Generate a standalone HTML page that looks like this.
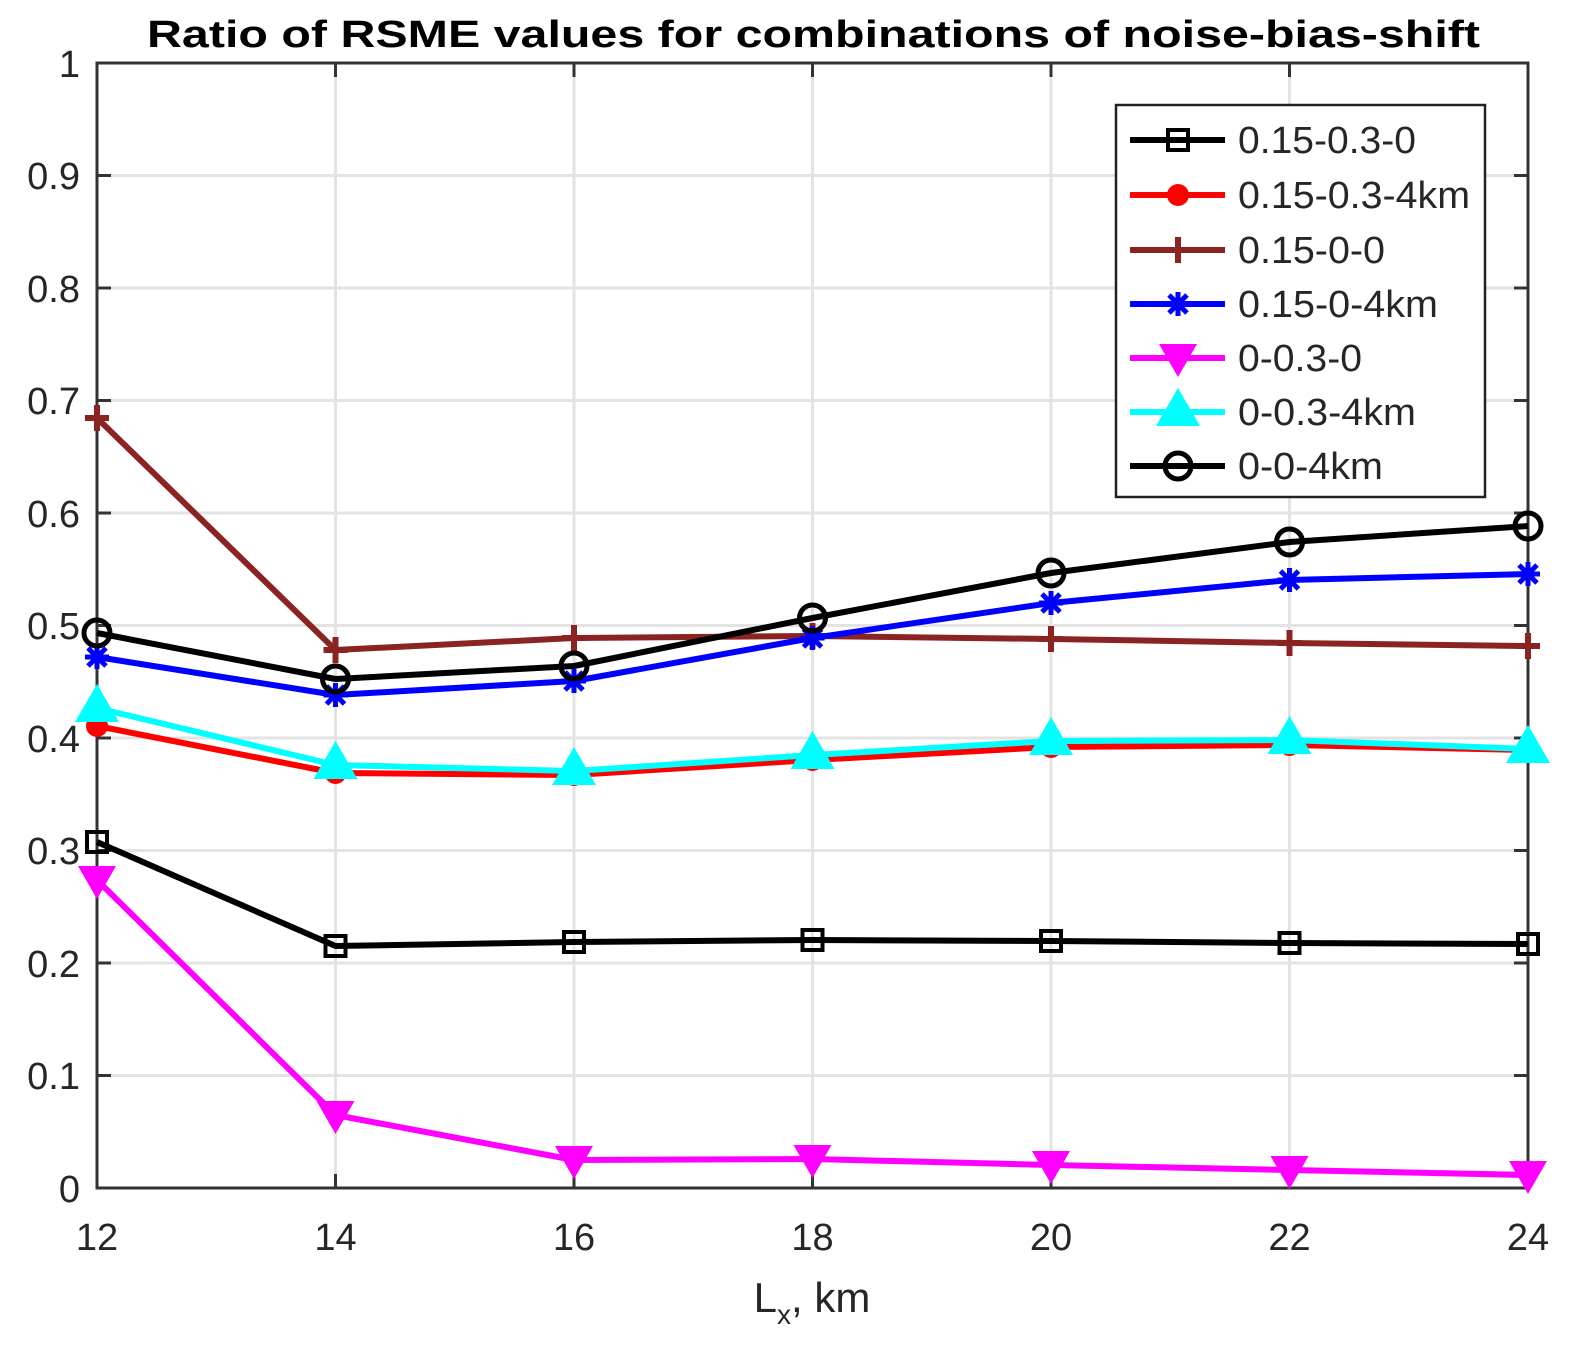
<!DOCTYPE html>
<html><head><meta charset="utf-8"><style>
html,body{margin:0;padding:0;background:#fff;}
svg{display:block;font-family:"Liberation Sans",Arial,sans-serif;}
</style></head><body>
<svg id="s" width="1586" height="1365" viewBox="0 0 1586 1365" xmlns="http://www.w3.org/2000/svg">
<rect width="1586" height="1365" fill="#fff"/>
<g stroke="#e3e3e3" stroke-width="3">
<line x1="335.5" y1="63" x2="335.5" y2="1188"/><line x1="574" y1="63" x2="574" y2="1188"/><line x1="812.5" y1="63" x2="812.5" y2="1188"/><line x1="1051" y1="63" x2="1051" y2="1188"/><line x1="1289.5" y1="63" x2="1289.5" y2="1188"/>
<line x1="97" y1="1075.5" x2="1528" y2="1075.5"/><line x1="97" y1="963" x2="1528" y2="963"/><line x1="97" y1="850.5" x2="1528" y2="850.5"/><line x1="97" y1="738" x2="1528" y2="738"/><line x1="97" y1="625.5" x2="1528" y2="625.5"/><line x1="97" y1="513" x2="1528" y2="513"/><line x1="97" y1="400.5" x2="1528" y2="400.5"/><line x1="97" y1="288" x2="1528" y2="288"/><line x1="97" y1="175.5" x2="1528" y2="175.5"/>
</g>
<rect x="97" y="63" width="1431" height="1125" fill="none" stroke="#333" stroke-width="3"/>
<g id="ticks" stroke="#333" stroke-width="3"></g>
<g font-size="38" fill="#262626" text-anchor="end">
<text x="80" y="1202">0</text><text x="80" y="1089">0.1</text><text x="80" y="977">0.2</text><text x="80" y="864">0.3</text><text x="80" y="752">0.4</text><text x="80" y="639">0.5</text><text x="80" y="527">0.6</text><text x="80" y="414">0.7</text><text x="80" y="302">0.8</text><text x="80" y="189">0.9</text><text x="80" y="77">1</text>
</g>
<g font-size="38" fill="#262626" text-anchor="middle">
<text x="97" y="1250">12</text><text x="335.5" y="1250">14</text><text x="574" y="1250">16</text><text x="812.5" y="1250">18</text><text x="1051" y="1250">20</text><text x="1289.5" y="1250">22</text><text x="1528" y="1250">24</text>
<text x="812" y="1312" font-size="42">L<tspan font-size="28" dy="12">x</tspan><tspan dy="-12">, km</tspan></text>
</g>
<text x="147" y="47" font-size="38" font-weight="bold" fill="#000" textLength="1333" lengthAdjust="spacingAndGlyphs">Ratio of RSME values for combinations of noise-bias-shift</text>
<g id="series"></g>
<rect x="1116" y="105" width="369" height="392" fill="#fff" stroke="#222" stroke-width="2.5"/>
<g id="leg"></g>
<g font-size="38" fill="#262626">
<text x="1238" y="153" textLength="178" lengthAdjust="spacingAndGlyphs">0.15-0.3-0</text><text x="1238" y="208" textLength="232" lengthAdjust="spacingAndGlyphs">0.15-0.3-4km</text><text x="1238" y="263" textLength="147" lengthAdjust="spacingAndGlyphs">0.15-0-0</text><text x="1238" y="317" textLength="200" lengthAdjust="spacingAndGlyphs">0.15-0-4km</text><text x="1238" y="371" textLength="124" lengthAdjust="spacingAndGlyphs">0-0.3-0</text><text x="1238" y="425" textLength="178" lengthAdjust="spacingAndGlyphs">0-0.3-4km</text><text x="1238" y="479" textLength="145" lengthAdjust="spacingAndGlyphs">0-0-4km</text>
</g>
</svg>
<script>
var NS="http://www.w3.org/2000/svg";
function el(p,t,a){var e=document.createElementNS(NS,t);for(var k in a)e.setAttribute(k,a[k]);p.appendChild(e);return e;}
var tk=document.getElementById("ticks");
[335.5,574,812.5,1051,1289.5].forEach(function(x){el(tk,"line",{x1:x,y1:1188,x2:x,y2:1174});el(tk,"line",{x1:x,y1:63,x2:x,y2:77});});
for(var i=1;i<10;i++){var y=1188-112.5*i;el(tk,"line",{x1:97,y1:y,x2:111,y2:y});el(tk,"line",{x1:1528,y1:y,x2:1514,y2:y});}
var X=[97,335.5,574,812.5,1051,1289.5,1528];
var S=[
{c:"#000",m:"sq",y:[842,946,942,940,941,943,944]},
{c:"#f00",m:"dot",y:[726,773,775,760,747,745,750]},
{c:"#8b2323",m:"plus",y:[418,650,638,636,639,643,646]},
{c:"#00f",m:"star",y:[657,695,681,638,603,580,574]},
{c:"#f0f",m:"tdown",y:[880,1115,1160,1159,1165,1170,1175]},
{c:"#0ff",m:"tup",y:[708,765,771,755,741,740,749]},
{c:"#000",m:"circ",y:[633,679,666,618,573,542,526]}];
function mk(g,m,x,y,c){
 if(m=="sq")el(g,"rect",{x:x-10,y:y-10,width:20,height:20,fill:"none",stroke:c,"stroke-width":4});
 if(m=="dot")el(g,"circle",{cx:x,cy:y,r:11,fill:c});
 if(m=="plus"){el(g,"line",{x1:x-12,y1:y,x2:x+12,y2:y,stroke:c,"stroke-width":6});el(g,"line",{x1:x,y1:y-13,x2:x,y2:y+13,stroke:c,"stroke-width":6});}
 if(m=="star"){[[-12,0,12,0],[0,-12,0,12],[-9,-9,9,9],[-9,9,9,-9]].forEach(function(d){el(g,"line",{x1:x+d[0],y1:y+d[1],x2:x+d[2],y2:y+d[3],stroke:c,"stroke-width":5});});}
 if(m=="tdown")el(g,"polygon",{points:(x-19)+","+(y-14)+" "+(x+19)+","+(y-14)+" "+x+","+(y+19),fill:c});
 if(m=="tup")el(g,"polygon",{points:(x-22)+","+(y+14)+" "+(x+22)+","+(y+14)+" "+x+","+(y-24),fill:c});
 if(m=="circ")el(g,"circle",{cx:x,cy:y,r:13,fill:"none",stroke:c,"stroke-width":5});
}
var sg=document.getElementById("series");
S.forEach(function(s){
 var p=X.map(function(x,i){return x+","+s.y[i];}).join(" ");
 el(sg,"polyline",{points:p,fill:"none",stroke:s.c,"stroke-width":6,"stroke-linejoin":"round"});
 X.forEach(function(x,i){mk(sg,s.m,x,s.y[i],s.c);});
});
var lg=document.getElementById("leg");
var LY=[140,195,250,304,358,412,466];
S.forEach(function(s,i){
 el(lg,"line",{x1:1130,y1:LY[i],x2:1225,y2:LY[i],stroke:s.c,"stroke-width":6});
 mk(lg,s.m,1178,LY[i],s.c);
});
</script>
</body></html>
